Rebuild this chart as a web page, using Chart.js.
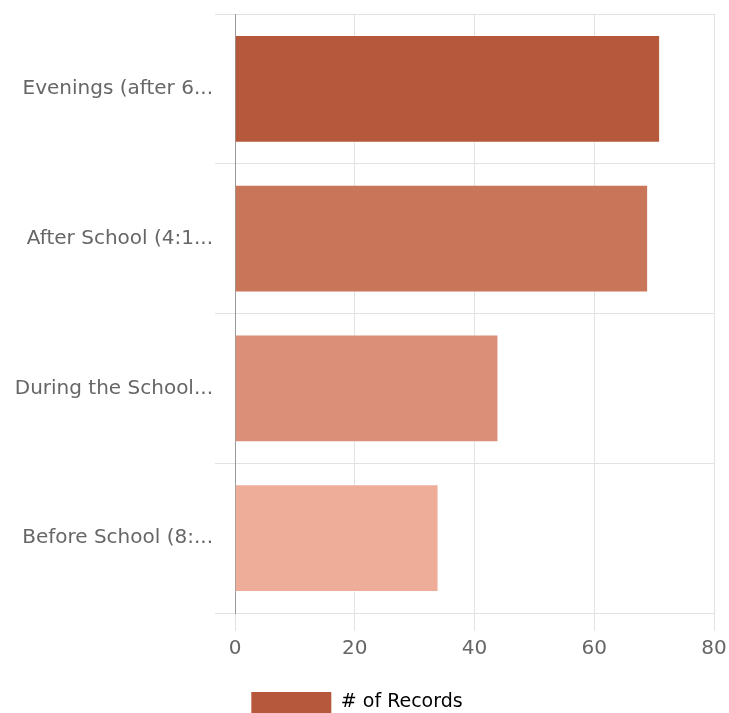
<!DOCTYPE html>
<html>
<head>
<meta charset="UTF-8">
<title>Records by Time</title>
<script src="https://cdn.jsdelivr.net/npm/chart.js"></script>
<style>
  html, body { margin: 0; padding: 0; background: #fff; overflow: hidden; }
  #wrap { width: 729px; height: 723px; }
</style>
</head>
<body>
<div id="wrap"><canvas id="timeChart"></canvas></div>
<script>
// data
const categories = ['Evenings (after 6...', 'After School (4:1...', 'During the School...', 'Before School (8:...'];
const records = [71, 69, 44, 34];
const barColors = ['#b5583b', '#c8755a', '#db8f78', '#edad98'];
const xTicks = [0, 20, 40, 60, 80];

const fontFamily = '"DejaVu Sans", sans-serif';

const ctx = document.getElementById('timeChart').getContext('2d');
const chart = new Chart(ctx, {
    type: 'bar',
    data: {
        labels: categories,
        datasets: [{
            label: '# of Records',
            data: records,
            backgroundColor: barColors,
            borderColor: 'rgba(255,255,255,0.35)',
            borderWidth: 1
        }]
    },
    options: {
        indexAxis: 'y',
        responsive: true,
        maintainAspectRatio: false,
        animation: false,
        layout: { padding: { top: 7, right: 15, left: 0, bottom: 0 } },
        plugins: {
            tooltip: { enabled: false },
            legend: {
                position: 'bottom',
                labels: {
                    boxWidth: 80,
                    boxHeight: 21,
                    color: '#333',
                    padding: 10,
                    font: { family: fontFamily, size: 19 },
                    generateLabels: () => [{
                        text: '# of Records',
                        fillStyle: barColors[0],
                        strokeStyle: barColors[0],
                        lineWidth: 0,
                        datasetIndex: 0
                    }]
                }
            }
        },
        scales: {
            x: {
                min: xTicks[0],
                max: xTicks[xTicks.length - 1],
                afterBuildTicks: (scale) => { scale.ticks = xTicks.map(v => ({ value: v })); },
                ticks: {
                    color: '#666',
                    padding: 6,
                    font: { family: fontFamily, size: 20 }
                },
                grid: { color: '#e2e2e2', tickLength: 18 },
                border: { color: '#e2e2e2' },
                afterFit: (scale) => {
                    scale.height = 69;
                    scale.paddingLeft = 0;
                    scale.paddingRight = 0;
                }
            },
            y: {
                ticks: {
                    color: '#666',
                    padding: 2,
                    font: { family: fontFamily, size: 20 }
                },
                grid: { color: '#e2e2e2', tickLength: 20 },
                border: { color: '#999' },
                afterFit: (scale) => { scale.width = 235; }
            }
        }
    }
});
</script>
</body>
</html>
